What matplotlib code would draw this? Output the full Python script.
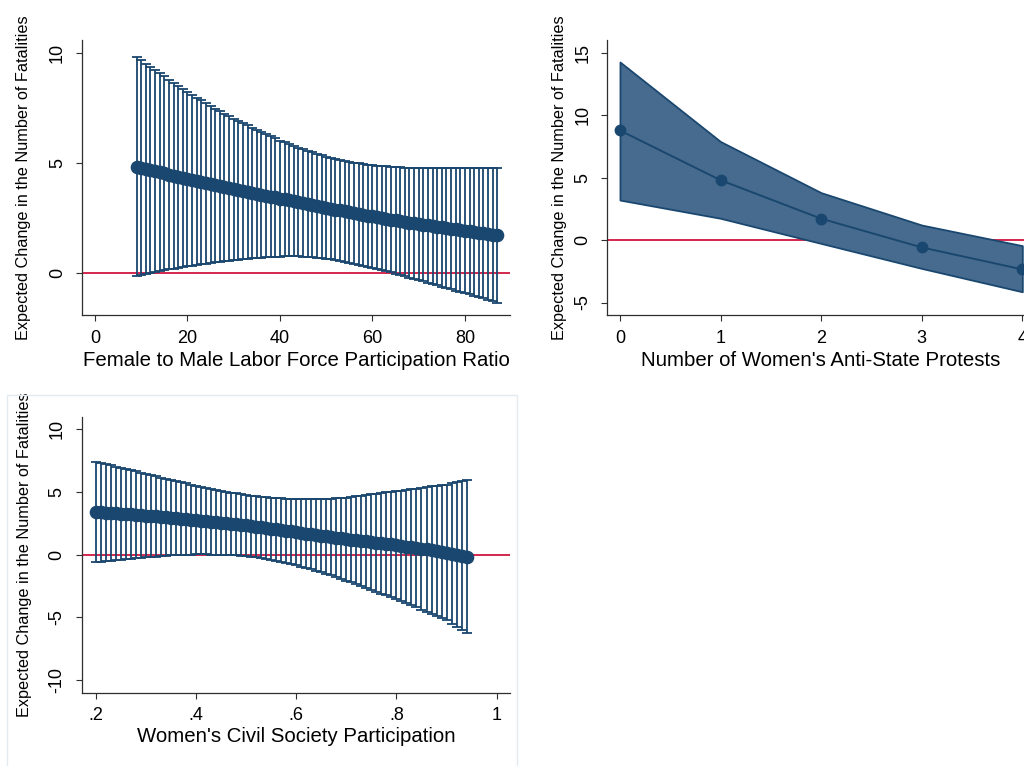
import matplotlib
matplotlib.use("Agg")
import matplotlib.pyplot as plt
from matplotlib.patches import Rectangle

plt.rcParams['font.family'] = ['Liberation Sans', 'DejaVu Sans']
plt.rcParams['axes.unicode_minus'] = False  # Stata prints a plain hyphen

NAVY = "#1a476f"
FILL = "#476b8e"
RED = "#d0173f"
AXIS = "#2e2e2e"
YLABEL = "Expected Change in the Number of Fatalities"

# panel 1: female to male labor force participation ratio (9..87)
flfp_x = list(range(9, 88))
flfp_mean = [4.84, 4.79, 4.74, 4.69, 4.64, 4.59, 4.54, 4.48, 4.43, 4.38,
             4.32, 4.27, 4.22, 4.18, 4.13, 4.08, 4.03, 3.99, 3.94, 3.90,
             3.85, 3.81, 3.77, 3.73, 3.69, 3.64, 3.60, 3.56, 3.52, 3.48,
             3.44, 3.39, 3.36, 3.32, 3.28, 3.24, 3.19, 3.15, 3.11, 3.07,
             3.02, 2.97, 2.93, 2.89, 2.85, 2.81, 2.77, 2.73, 2.69, 2.65,
             2.62, 2.58, 2.54, 2.51, 2.47, 2.44, 2.40, 2.36, 2.33, 2.30,
             2.27, 2.24, 2.21, 2.18, 2.14, 2.11, 2.08, 2.05, 2.02, 1.99,
             1.96, 1.93, 1.90, 1.87, 1.84, 1.82, 1.78, 1.75, 1.72]
flfp_upper = [9.81, 9.66, 9.51, 9.36, 9.22, 9.07, 8.93, 8.78, 8.64, 8.50,
              8.36, 8.22, 8.09, 7.97, 7.84, 7.71, 7.58, 7.47, 7.36, 7.24,
              7.13, 7.02, 6.92, 6.81, 6.71, 6.60, 6.50, 6.40, 6.31, 6.21,
              6.12, 6.02, 5.94, 5.86, 5.78, 5.70, 5.62, 5.55, 5.48, 5.42,
              5.35, 5.28, 5.23, 5.19, 5.14, 5.10, 5.05, 5.02, 4.99, 4.96,
              4.93, 4.90, 4.88, 4.86, 4.85, 4.83, 4.81, 4.80, 4.79, 4.79,
              4.78, 4.77, 4.77, 4.77, 4.76, 4.76, 4.76, 4.76, 4.76, 4.76,
              4.76, 4.76, 4.76, 4.76, 4.76, 4.77, 4.77, 4.77, 4.77]
flfp_lower = [-0.12, -0.08, -0.03, 0.01, 0.05, 0.10, 0.14, 0.18, 0.21, 0.25,
              0.28, 0.32, 0.35, 0.38, 0.41, 0.44, 0.47, 0.50, 0.52, 0.55,
              0.57, 0.60, 0.62, 0.64, 0.66, 0.68, 0.70, 0.71, 0.72, 0.74,
              0.75, 0.76, 0.77, 0.77, 0.77, 0.77, 0.76, 0.75, 0.73, 0.71,
              0.69, 0.66, 0.63, 0.59, 0.56, 0.52, 0.48, 0.44, 0.39, 0.34,
              0.30, 0.25, 0.20, 0.15, 0.09, 0.04, -0.02, -0.08, -0.13, -0.19,
              -0.24, -0.30, -0.36, -0.42, -0.48, -0.54, -0.60, -0.66, -0.72, -0.78,
              -0.84, -0.90, -0.96, -1.02, -1.08, -1.14, -1.21, -1.27, -1.33]

# panel 2: number of women's anti-state protests
protest_x = [0, 1, 2, 3, 4]
protest_mean = [8.77, 4.79, 1.71, -0.59, -2.35]
protest_upper = [14.25, 7.88, 3.79, 1.20, -0.45]
protest_lower = [3.20, 1.74, -0.27, -2.27, -4.14]

# panel 3: women's civil society participation (.20 .. .94)
civil_x = [round(0.20 + 0.01 * i, 2) for i in range(75)]
civil_mean = [3.40, 3.37, 3.35, 3.32, 3.30, 3.27, 3.24, 3.21, 3.18, 3.15,
              3.12, 3.09, 3.05, 3.02, 2.98, 2.95, 2.91, 2.87, 2.84, 2.80,
              2.76, 2.72, 2.68, 2.63, 2.59, 2.55, 2.51, 2.46, 2.42, 2.37,
              2.33, 2.28, 2.23, 2.17, 2.12, 2.07, 2.02, 1.96, 1.91, 1.85,
              1.80, 1.74, 1.69, 1.63, 1.58, 1.52, 1.46, 1.41, 1.35, 1.30,
              1.24, 1.18, 1.15, 1.10, 1.06, 1.01, 0.96, 0.92, 0.87, 0.82,
              0.76, 0.70, 0.65, 0.59, 0.54, 0.48, 0.42, 0.37, 0.31, 0.25,
              0.17, 0.09, 0.01, -0.07, -0.15]
civil_upper = [7.42, 7.32, 7.23, 7.12, 7.03, 6.93, 6.83, 6.73, 6.64, 6.54,
               6.44, 6.35, 6.25, 6.15, 6.05, 5.96, 5.87, 5.77, 5.69, 5.59,
               5.50, 5.42, 5.34, 5.25, 5.17, 5.09, 5.03, 4.96, 4.89, 4.82,
               4.76, 4.72, 4.67, 4.62, 4.57, 4.53, 4.51, 4.49, 4.47, 4.45,
               4.43, 4.43, 4.44, 4.43, 4.44, 4.44, 4.46, 4.48, 4.50, 4.52,
               4.54, 4.57, 4.65, 4.70, 4.76, 4.81, 4.87, 4.94, 4.98, 5.03,
               5.07, 5.12, 5.18, 5.22, 5.28, 5.33, 5.39, 5.45, 5.51, 5.55,
               5.59, 5.68, 5.76, 5.86, 5.96]
civil_lower = [-0.62, -0.58, -0.53, -0.48, -0.43, -0.39, -0.35, -0.31, -0.28, -0.24,
               -0.20, -0.17, -0.15, -0.11, -0.09, -0.06, -0.05, -0.03, -0.01, 0.01,
               0.02, 0.02, 0.02, 0.01, 0.01, 0.01, -0.01, -0.04, -0.05, -0.08,
               -0.10, -0.16, -0.21, -0.28, -0.33, -0.39, -0.47, -0.57, -0.65, -0.75,
               -0.83, -0.95, -1.06, -1.17, -1.28, -1.40, -1.54, -1.66, -1.80, -1.92,
               -2.06, -2.21, -2.35, -2.50, -2.64, -2.79, -2.95, -3.10, -3.25, -3.40,
               -3.56, -3.73, -3.89, -4.05, -4.21, -4.38, -4.56, -4.72, -4.90, -5.07,
               -5.25, -5.50, -5.75, -6.00, -6.26]

W, H = 1024, 766


def add_panel(fig, left, top, right, bottom):
    # pixel box -> figure fraction
    return fig.add_axes([left / W, 1 - bottom / H, (right - left) / W, (bottom - top) / H])


def stata_style(ax, xlabel, ylab_x, xlab_y):
    for s in ["top", "right"]:
        ax.spines[s].set_visible(False)
    for s in ["left", "bottom"]:
        ax.spines[s].set_color(AXIS)
        ax.spines[s].set_linewidth(0.9)
    ax.tick_params(direction="out", length=4.5, width=0.8, colors=AXIS,
                   labelcolor="black", labelsize=13)
    ax.tick_params(axis="y", pad=7)
    ax.tick_params(axis="x", pad=6)
    for lab in ax.get_yticklabels():
        lab.set_rotation(90)
        lab.set_va("center")
    ax.set_ylabel(YLABEL, fontsize=11.7)
    ax.yaxis.set_label_coords(ylab_x, 0.5)
    ax.set_xlabel(xlabel, fontsize=14.7)
    ax.xaxis.label.set_va("center")
    ax.xaxis.set_label_coords(0.5, xlab_y)
    ax.set_facecolor("none")


def error_panel(ax, x, mean, lower, upper, msize):
    ax.axhline(0, color=RED, lw=1.3, zorder=1)
    ax.vlines(x, lower, upper, color=NAVY, lw=1.3, zorder=2)
    ax.plot(x, upper, ls="none", marker="_", ms=6.5, mew=1.3, color=NAVY, zorder=2)
    ax.plot(x, lower, ls="none", marker="_", ms=6.5, mew=1.3, color=NAVY, zorder=2)
    ax.plot(x, mean, color=NAVY, lw=3, marker="o", ms=msize, mec=NAVY, zorder=3)


fig = plt.figure(figsize=(10.24, 7.66), dpi=100)

# light frame around the bottom graph
fig.patches.append(Rectangle((7 / W, -0.05), 510 / W, 1 - 395 / H + 0.05,
                             transform=fig.transFigure, fill=False,
                             edgecolor="#e3eaf0", lw=1.0))

# top left
ax1 = add_panel(fig, 82, 40, 510, 315)
error_panel(ax1, flfp_x, flfp_mean, flfp_lower, flfp_upper, 8.8)
ax1.set_xlim(-2.81, 89.73)
ax1.set_ylim(-1.89, 10.58)
ax1.set_xticks([0, 20, 40, 60, 80])
ax1.set_yticks([0, 5, 10])
stata_style(ax1, "Female to Male Labor Force Participation Ratio", -0.119, -0.164)

# top right, runs past the right edge like the original
ax2 = add_panel(fig, 607.3, 40, 1035, 315)
ax2.axhline(0, color=RED, lw=1.3, zorder=1)
ax2.fill_between(protest_x, protest_lower, protest_upper, facecolor=FILL,
                 edgecolor=NAVY, lw=1.3, zorder=2)
ax2.plot(protest_x, protest_mean, color=NAVY, lw=1.4, marker="o", ms=7.5, zorder=3,
         clip_on=False)
ax2.set_xlim(-0.126, 4.126)
ax2.set_ylim(-6.0, 16.01)
ax2.set_xticks(protest_x)
ax2.set_yticks([-5, 0, 5, 10, 15])
stata_style(ax2, "Number of Women's Anti-State Protests", -0.095, -0.164)

# bottom left
ax3 = add_panel(fig, 81.7, 417.3, 510, 692.7)
error_panel(ax3, civil_x, civil_mean, civil_lower, civil_upper, 8.8)
ax3.set_xlim(0.172, 1.0266)
ax3.set_ylim(-11.01, 10.96)
ax3.set_xticks([0.2, 0.4, 0.6, 0.8, 1.0])
ax3.set_xticklabels([".2", ".4", ".6", ".8", "1"])
ax3.set_yticks([-10, -5, 0, 5, 10])
stata_style(ax3, "Women's Civil Society Participation", -0.116, -0.160)

fig.savefig("out.png", dpi=100)
